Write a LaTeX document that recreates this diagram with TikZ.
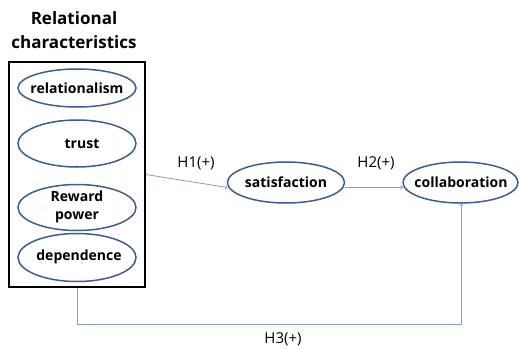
\documentclass[tikz,border=0pt]{standalone}
\usepackage{fontspec}
\setmainfont{Open Sans}
\definecolor{ovalblue}{HTML}{3B5E8C}
\definecolor{linkblue}{HTML}{7F9FD0}
\begin{document}
\begin{tikzpicture}[x=1pt,y=-1pt]
\tikzstyle{every node}+=[inner sep=0pt]
\tikzstyle{var}=[align=center, font=\bfseries\fontsize{14}{17.5}\selectfont]
\tikzstyle{oval}=[draw=ovalblue, line width=1.5pt]
\tikzstyle{link}=[draw=linkblue, line width=0.8pt]
\tikzstyle{hyp}=[font=\fontsize{15}{17}\selectfont]
\useasboundingbox (0,0) rectangle (519,348);
% relational characteristics group
\node [align=center, font=\bfseries\fontsize{17}{24}\selectfont] (title) at (74,30) {Relational\\characteristics};
\node [draw=black, line width=1.6pt, minimum width=136pt, minimum height=225pt] (group) at (77,174.5) {};
\node [var] (rel) at (77,88) {relationalism};
\node [var] (tru) at (82,144) {trust};
\node [var] (rew) at (77,207) {Reward\\power};
\node [var] (dep) at (79,257) {dependence};
\node [var] (sat) at (286,182.5) {satisfaction};
\node [var] (col) at (461,182.5) {collaboration};
% ovals
\draw [oval] (77,88) ellipse [x radius=59, y radius=19];
\draw [oval] (77,143.5) ellipse [x radius=59, y radius=23.5];
\draw [oval] (77,207.5) ellipse [x radius=59, y radius=23];
\draw [oval] (77,257.5) ellipse [x radius=59, y radius=24];
\draw [oval] (sat) ellipse [x radius=58.5, y radius=20.5];
\draw [oval] ([xshift=-0.5pt]col.center) ellipse [x radius=57.5, y radius=20.5];
% hypotheses
\draw [link, ->] (group.east) -- ([shift={(-58.5,5)}]sat.center);
\node [hyp] (h1) at (196,163) {H1(+)};
\draw [link, ->] ([shift={(58.5,5)}]sat.center) -- ([shift={(-58,5)}]col.center);
\node [hyp] (h2) at (376,163) {H2(+)};
\draw [link, ->] (group.south) -- ++(0,37) -| ([yshift=-20.5pt]col.center);
\node [hyp] (h3) at (283,339) {H3(+)};
\end{tikzpicture}
\end{document}
